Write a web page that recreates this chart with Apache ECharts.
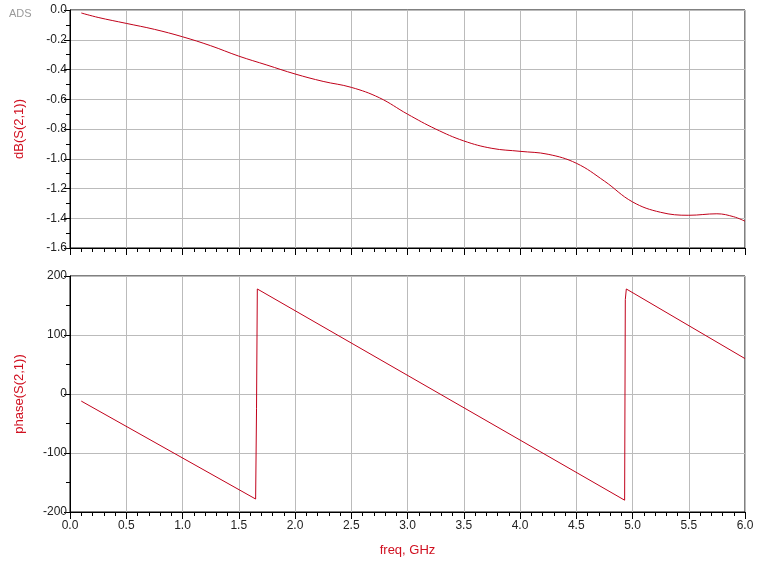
<!DOCTYPE html>
<html><head><meta charset="utf-8">
<script src="https://cdn.jsdelivr.net/npm/echarts@6/dist/echarts.min.js"></script>
<style>html,body{margin:0;padding:0;background:#fff}#c{width:758px;height:571px}</style>
</head><body><div id="c"></div>
<script>
const freqDB = [0.1,0.25,0.5,0.75,1.0,1.25,1.5,1.75,2.0,2.25,2.5,2.75,3.0,3.25,3.5,3.75,4.0,4.25,4.5,4.75,5.0,5.25,5.5,5.75,5.9,6.0];
const dbValues = [-0.02,-0.05,-0.09,-0.13,-0.18,-0.24,-0.31,-0.37,-0.43,-0.48,-0.52,-0.59,-0.70,-0.80,-0.88,-0.93,-0.95,-0.97,-1.03,-1.15,-1.29,-1.36,-1.38,-1.37,-1.39,-1.42];
const freqPh = [0.1,1.65,1.658,1.665,4.93,4.936,4.945,6.0];
const phValues = [-12,-178,-25,178,-180,160,178,60];
const red='#c0001a', lab='#d01020';
const grid=(t,h)=>({left:70,right:13,top:t,height:h,show:true,borderColor:'#000',borderWidth:1});
const xa=(i,show)=>({type:'value',gridIndex:i,min:0,max:6,interval:0.5,
  axisLine:{show:true,onZero:false,lineStyle:{color:'#000'}},axisTick:{show:true,inside:false,length:7,lineStyle:{color:'#000'}},
  minorTick:{show:true,splitNumber:5,length:4,lineStyle:{color:'#000'}},
  splitLine:{show:true,lineStyle:{color:'#bbb'}},
  axisLabel:{show:show,color:'#222',fontFamily:'Arial',fontSize:12,formatter:v=>v.toFixed(1)},
  name:show?'freq, GHz':'',nameLocation:'middle',nameGap:32,nameTextStyle:{color:lab,fontFamily:'Arial',fontSize:13}});
const ya=(i,min,max,iv,nm,fmt)=>({type:'value',gridIndex:i,min:min,max:max,interval:iv,
  axisLine:{show:true,onZero:false,lineStyle:{color:'#000'}},axisTick:{show:true,length:6,lineStyle:{color:'#000'}},
  minorTick:{show:true,splitNumber:2,length:4,lineStyle:{color:'#000'}},
  splitLine:{show:true,lineStyle:{color:'#bbb'}},
  axisLabel:{color:'#222',fontFamily:'Arial',fontSize:12,margin:3,formatter:fmt},
  name:nm,nameLocation:'middle',nameGap:44,nameTextStyle:{color:lab,fontFamily:'Arial',fontSize:13}});
const chart=echarts.init(document.getElementById('c'));
chart.setOption({
  animation:false,
  title:{text:'ADS',left:4,top:3,textStyle:{color:'#999',fontSize:11,fontWeight:'normal',fontFamily:'Arial'}},
  grid:[grid(10,238),grid(276,236)],
  xAxis:[xa(0,false),xa(1,true)],
  yAxis:[ya(0,-1.6,0,0.2,'dB(S(2,1))',v=>v.toFixed(1)),ya(1,-200,200,100,'phase(S(2,1))',v=>String(v))],
  series:[
    {type:'line',xAxisIndex:0,yAxisIndex:0,data:freqDB.map((f,i)=>[f,dbValues[i]]),smooth:0.4,showSymbol:false,lineStyle:{color:red,width:1}},
    {type:'line',xAxisIndex:1,yAxisIndex:1,data:freqPh.map((f,i)=>[f,phValues[i]]),showSymbol:false,lineStyle:{color:red,width:1}}
  ]
});
</script></body></html>
